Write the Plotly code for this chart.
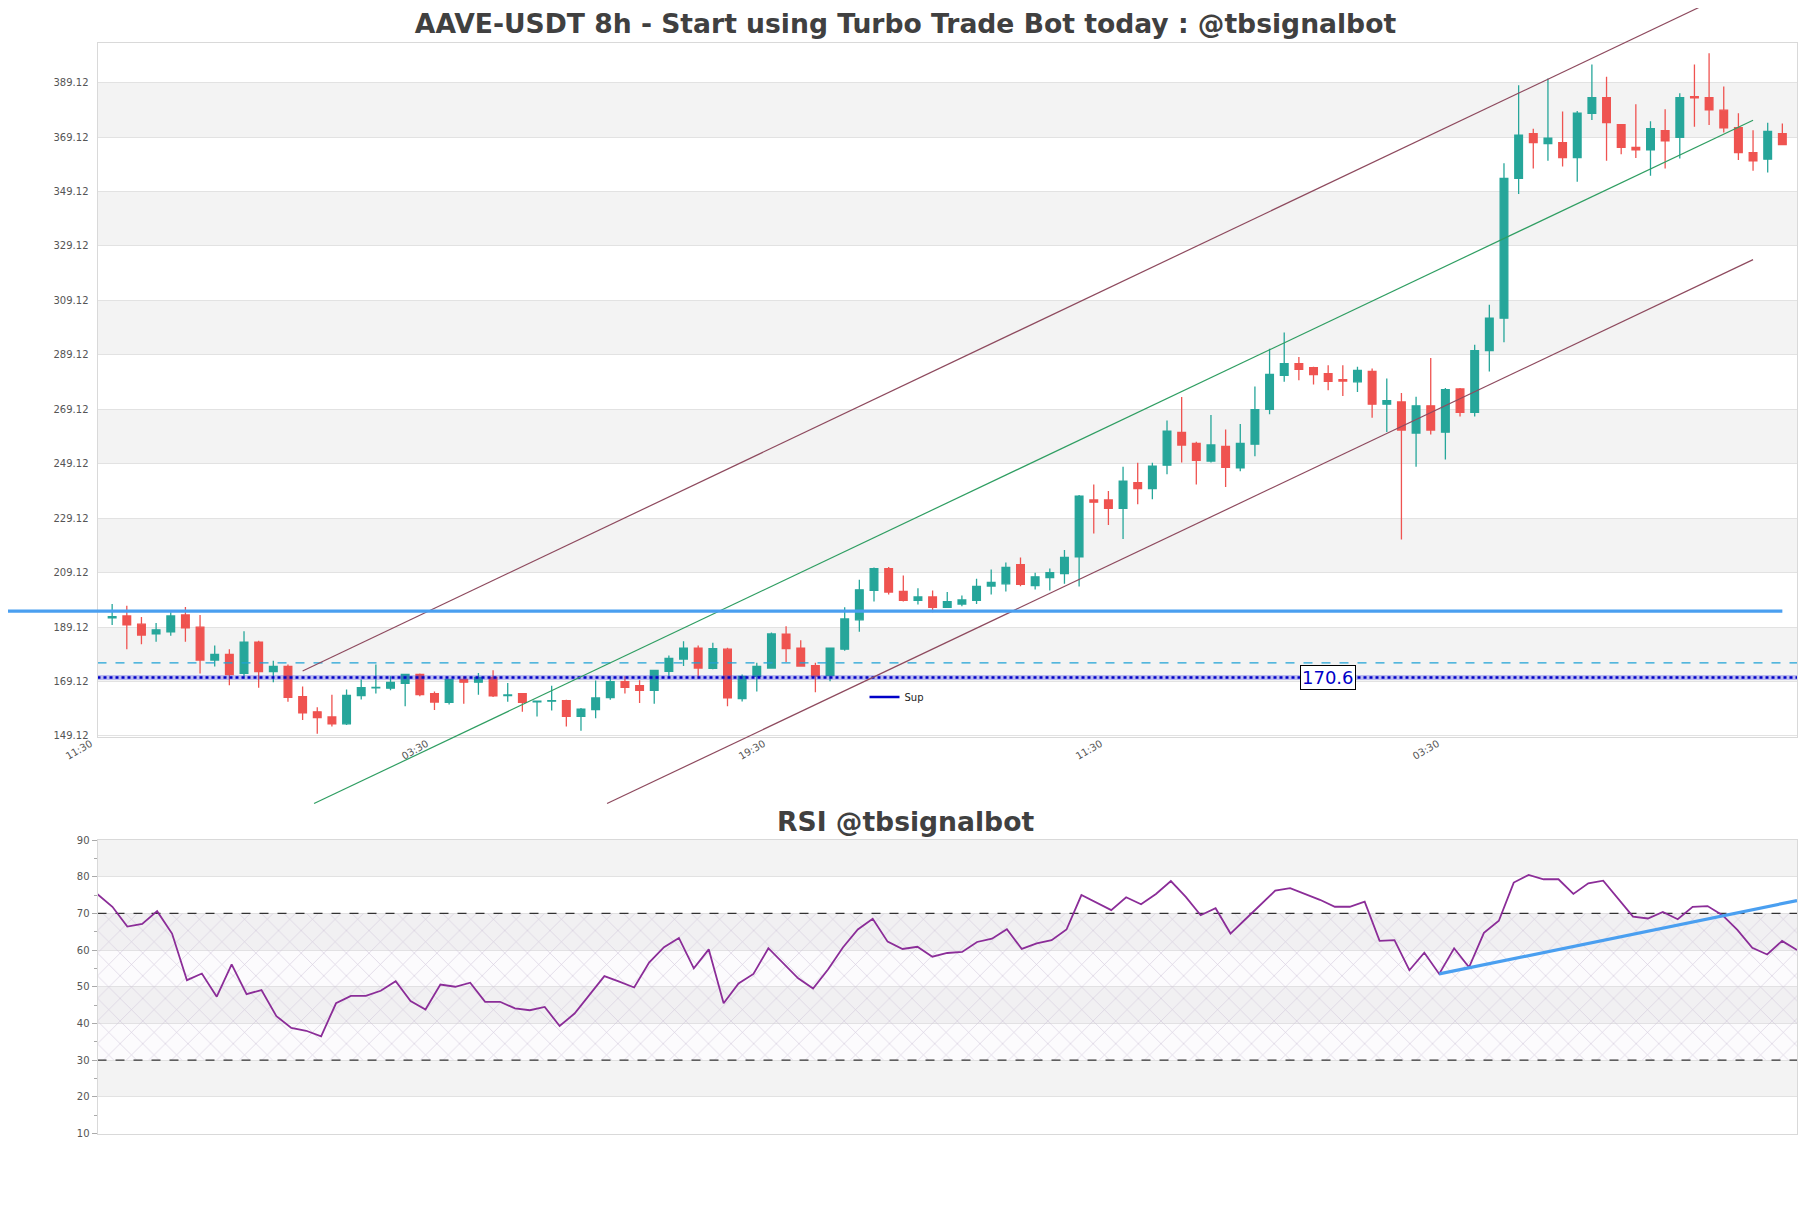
import plotly.graph_objects as go

# ---------------- data ----------------
opens = [192.5, 193.2, 190.2, 186.6, 187.4, 193.6, 189.1, 177.0, 179.1, 172.1,
         183.6, 172.8, 174.7, 163.6, 158.0, 156.1, 153.6, 164.0, 166.8, 166.7,
         168.5, 171.7, 164.7, 161.5, 169.9, 168.9, 170.6, 164.0, 164.7, 161.7,
         161.9, 162.1, 156.3, 158.8, 163.2, 169.1, 167.6, 165.9, 172.9, 177.4,
         181.4, 174.0, 181.0, 162.9, 171.0, 174.1, 186.5, 181.4, 175.0, 171.3,
         181.0, 191.8, 202.6, 210.6, 202.2, 198.9, 200.2, 196.4, 197.6, 198.9,
         204.2, 205.0, 212.1, 204.4, 207.3, 208.8, 214.9, 235.8, 235.8, 232.7,
         242.2, 240.0, 248.6, 260.6, 256.6, 250.1, 255.5, 247.6, 256.3, 269.1,
         281.6, 285.9, 284.4, 282.2, 280.0, 279.2, 283.0, 271.0, 271.8, 260.4,
         270.4, 260.7, 276.6, 268.0, 290.7, 302.6, 353.9, 370.4, 366.7, 367.1,
         361.6, 377.8, 383.6, 373.7, 365.3, 364.4, 371.5, 369.0, 384.0, 383.6,
         379.0, 372.6, 363.4, 361.0, 370.4]
highs = [197.6, 197.0, 192.8, 190.6, 194.6, 196.5, 193.6, 182.4, 181.0, 187.6,
         184.1, 176.8, 175.4, 167.3, 159.7, 164.3, 166.2, 169.9, 175.4, 171.1,
         171.7, 172.1, 165.5, 170.1, 171.1, 172.3, 173.3, 168.6, 164.7, 161.9,
         167.6, 162.4, 159.4, 169.5, 171.1, 171.1, 169.6, 173.2, 178.7, 183.9,
         182.4, 183.4, 181.5, 171.7, 176.0, 187.1, 189.4, 184.3, 176.0, 181.6,
         196.4, 206.5, 211.0, 211.2, 208.1, 203.4, 202.6, 202.0, 200.7, 206.9,
         210.3, 212.8, 214.7, 209.1, 210.6, 217.4, 237.6, 241.5, 239.1, 248.0,
         249.5, 249.5, 265.0, 273.6, 257.2, 267.0, 261.7, 263.7, 277.5, 291.4,
         297.3, 288.3, 284.7, 285.3, 285.3, 284.7, 284.1, 280.4, 275.1, 273.7,
         288.0, 276.9, 276.9, 292.8, 307.5, 359.5, 388.1, 372.2, 390.6, 378.5,
         378.7, 395.8, 391.3, 373.7, 381.2, 374.9, 379.3, 385.2, 395.8, 399.9,
         387.7, 377.9, 371.6, 374.4, 374.1]
lows = [189.9, 181.0, 182.8, 183.7, 185.9, 183.7, 172.1, 174.6, 167.8, 170.1,
        166.8, 168.9, 161.7, 155.0, 149.9, 152.6, 153.2, 162.5, 164.7, 165.9,
        160.0, 163.7, 158.7, 160.7, 161.0, 164.3, 163.4, 161.7, 158.0, 156.3,
        158.5, 152.6, 151.0, 155.6, 162.4, 164.7, 161.2, 161.0, 170.5, 174.8,
        170.1, 173.6, 160.0, 161.8, 165.5, 173.8, 176.3, 174.6, 165.2, 169.2,
        180.4, 187.4, 198.5, 201.1, 198.5, 197.4, 194.6, 196.4, 196.8, 197.6,
        201.1, 202.2, 204.1, 202.9, 202.6, 205.0, 204.0, 223.5, 226.6, 221.5,
        234.2, 236.1, 245.3, 249.6, 241.5, 249.6, 240.6, 246.4, 251.9, 267.3,
        279.2, 279.8, 278.2, 276.1, 274.0, 275.5, 266.0, 260.8, 221.3, 248.0,
        259.9, 250.7, 266.5, 266.5, 283.0, 293.7, 348.2, 357.6, 360.4, 358.3,
        352.7, 375.4, 360.4, 362.8, 361.4, 354.9, 357.6, 361.2, 372.9, 373.5,
        370.8, 360.7, 356.7, 356.1, 366.3]
closes = [193.0, 189.9, 186.2, 188.1, 193.2, 188.8, 177.0, 179.1, 171.7, 183.6,
          172.8, 174.7, 163.3, 157.6, 155.9, 153.6, 164.0, 166.9, 167.0, 168.8,
          171.7, 164.3, 161.6, 169.9, 168.9, 170.6, 163.9, 164.2, 161.5, 161.9,
          162.1, 156.3, 159.0, 163.1, 169.1, 167.0, 165.9, 173.2, 177.6, 181.4,
          174.1, 181.2, 163.1, 171.0, 174.7, 186.6, 181.2, 174.8, 171.1, 181.4,
          192.1, 202.8, 210.6, 202.0, 198.9, 200.2, 196.4, 198.5, 199.1, 204.1,
          205.5, 211.0, 204.8, 207.6, 209.1, 214.7, 237.2, 235.0, 232.7, 242.7,
          240.0, 248.2, 261.1, 256.0, 250.4, 256.0, 247.8, 256.6, 269.0, 281.9,
          285.9, 283.8, 281.9, 279.4, 279.5, 283.4, 271.0, 272.3, 261.5, 270.4,
          261.5, 276.3, 268.0, 290.7, 302.6, 353.9, 369.8, 367.1, 368.7, 361.6,
          377.9, 383.6, 374.4, 365.3, 364.4, 372.2, 367.7, 383.6, 383.5, 379.1,
          372.5, 363.4, 360.4, 371.2, 366.3]
candle_idx = list(range(len(opens)))

rsi_values = [75.2, 71.8, 66.4, 67.1, 70.6, 64.5, 51.8, 53.6, 47.3, 56.1,
              48.0, 49.1, 42.0, 38.8, 38.0, 36.5, 45.5, 47.5, 47.5, 48.9,
              51.5, 46.1, 43.8, 50.6, 50.0, 51.1, 45.9, 45.9, 44.1, 43.6,
              44.5, 39.3, 42.7, 47.7, 52.9, 51.4, 49.8, 56.6, 60.8, 63.3,
              55.0, 60.2, 45.5, 50.9, 53.5, 60.5, 56.4, 52.3, 49.5, 54.7,
              60.7, 65.6, 68.5, 62.3, 60.3, 60.9, 58.2, 59.2, 59.5, 62.2,
              63.1, 65.7, 60.3, 61.8, 62.7, 65.6, 75.0, 72.9, 70.9, 74.4,
              72.5, 75.3, 78.8, 74.5, 69.5, 71.4, 64.5, 68.4, 72.2, 76.2,
              76.9, 75.3, 73.7, 71.8, 71.8, 73.2, 62.5, 62.7, 54.5, 59.3,
              53.5, 60.5, 55.3, 64.7, 68.0, 78.4, 80.5, 79.3, 79.3, 75.3,
              78.2, 78.9, 74.1, 69.1, 68.6, 70.4, 68.4, 71.8, 72.0, 69.5,
              65.5, 60.6, 58.8, 62.5, 60.0]
rsi_idx = list(range(len(rsi_values)))

x_tick_vals = [-0.98, 21.95, 44.95, 67.95, 90.95]
x_tick_text = ["11:30", "03:30", "19:30", "11:30", "03:30"]
price_ticks = [149.12, 169.12, 189.12, 209.12, 229.12, 249.12, 269.12,
               289.12, 309.12, 329.12, 349.12, 369.12, 389.12]
rsi_ticks = [10, 20, 30, 40, 50, 60, 70, 80, 90]

resistance_level = 195.0
dashed_level = 176.0
support_level = 170.6
support_label_at = 83

channel_upper = ([13.0, 108.3], [173.0, 416.7])
channel_mid = ([13.78, 112.0], [124.3, 375.3])
channel_lower = ([33.78, 112.0], [124.3, 324.1])

rsi_trend_x = [90, 114]
rsi_trend_y = [53.5, 73.5]
rsi_overbought = 70
rsi_oversold = 30

# ---------------- layout geometry ----------------
# page body has an 8px margin: the figure starts at (8, 8) in the window
PAGE_OFF = 8
W, H = 1811 - PAGE_OFF, 1208 - PAGE_OFF

def fx(p):  # window pixel x -> paper
    return (p - PAGE_OFF) / W

def fy(p):  # window pixel y -> paper
    return 1 - (p - PAGE_OFF) / H

XR = [-1, 115]
YR = [148.64, 403.55]
XD = [fx(97.5), fx(1797)]
YD_MAIN = [fy(737.3), fy(43.3)]
YD_RSI = [fy(1133.5), fy(840)]
RSI_R = [10, 90]

def to_px(v):
    return XD[0] + (v - XR[0]) / (XR[1] - XR[0]) * (XD[1] - XD[0])

def to_py(v):
    return YD_MAIN[0] + (v - YR[0]) / (YR[1] - YR[0]) * (YD_MAIN[1] - YD_MAIN[0])

GREEN = "#26a69a"
RED = "#ef5350"
BAND = "#f3f3f3"
GRID = "#e2e2e2"
FRAME = "#d9d9d9"
TXT = "#555555"

fig = go.Figure()

fig.add_trace(go.Candlestick(
    x=candle_idx, open=opens, high=highs, low=lows, close=closes,
    increasing=dict(line=dict(color=GREEN, width=1.3), fillcolor=GREEN),
    decreasing=dict(line=dict(color=RED, width=1.3), fillcolor=RED),
    xaxis="x", yaxis="y", showlegend=False, hoverinfo="skip"))

# horizontal levels
fig.add_trace(go.Scatter(x=XR, y=[dashed_level, dashed_level], mode="lines",
                         line=dict(color="#1fa3d6", width=1.3, dash="dash"),
                         xaxis="x", yaxis="y", showlegend=False, hoverinfo="skip"))
fig.add_trace(go.Scatter(x=XR, y=[support_level, support_level], mode="lines",
                         line=dict(color="rgba(60,60,230,0.3)", width=5),
                         xaxis="x", yaxis="y", showlegend=False, hoverinfo="skip"))
fig.add_trace(go.Scatter(x=XR, y=[support_level, support_level], mode="lines",
                         line=dict(color="#0000c8", width=2.5, dash="dot"),
                         xaxis="x", yaxis="y", showlegend=False, hoverinfo="skip"))
fig.add_trace(go.Scatter(x=[None], y=[None], mode="lines", name="Sup",
                         line=dict(color="#0000c8", width=2.5),
                         xaxis="x", yaxis="y", showlegend=True))

# RSI panel
fig.add_trace(go.Scatter(x=[rsi_idx[0], rsi_idx[-1], rsi_idx[-1], rsi_idx[0], rsi_idx[0]],
                         y=[rsi_oversold, rsi_oversold, rsi_overbought, rsi_overbought, rsi_oversold],
                         mode="none", fill="toself", fillcolor="rgba(0,0,0,0)",
                         fillpattern=dict(shape="x", size=16, solidity=0.08,
                                          fgcolor="#cbc3d8", fgopacity=0.8,
                                          bgcolor="rgba(225,215,240,0.10)"),
                         xaxis="x2", yaxis="y2", showlegend=False, hoverinfo="skip"))
for lvl in (rsi_overbought, rsi_oversold):
    fig.add_trace(go.Scatter(x=[rsi_idx[0], rsi_idx[-1]], y=[lvl, lvl], mode="lines",
                             line=dict(color="#333333", width=1.3, dash="dash"),
                             xaxis="x2", yaxis="y2", showlegend=False, hoverinfo="skip"))
fig.add_trace(go.Scatter(x=rsi_idx, y=rsi_values, mode="lines",
                         line=dict(color="#8b2d98", width=1.8),
                         xaxis="x2", yaxis="y2", showlegend=False, hoverinfo="skip"))
fig.add_trace(go.Scatter(x=rsi_trend_x, y=rsi_trend_y, mode="lines",
                         line=dict(color="#4a9ff0", width=3.2),
                         xaxis="x2", yaxis="y2", showlegend=False, hoverinfo="skip"))

shapes = []
# background bands
for k in range(len(price_ticks) - 1, 0, -2):
    shapes.append(dict(type="rect", xref="x domain", yref="y", x0=0, x1=1,
                       y0=price_ticks[k - 1], y1=price_ticks[k], fillcolor=BAND,
                       line=dict(width=0), layer="below"))
for k in range(len(rsi_ticks) - 1, 0, -2):
    shapes.append(dict(type="rect", xref="x2 domain", yref="y2", x0=0, x1=1,
                       y0=rsi_ticks[k - 1], y1=rsi_ticks[k], fillcolor=BAND,
                       line=dict(width=0), layer="below"))

# channel lines (not clipped to the plot area)
for (xs, ys), col in ((channel_upper, "#8e4a5e"), (channel_mid, "#2f9e62"),
                      (channel_lower, "#8e4a5e")):
    shapes.append(dict(type="line", xref="paper", yref="paper",
                       x0=to_px(xs[0]), y0=to_py(ys[0]), x1=to_px(xs[1]), y1=to_py(ys[1]),
                       line=dict(color=col, width=1.2), layer="above"))

# resistance line (extends into the left margin)
shapes.append(dict(type="line", xref="paper", yref="paper",
                   x0=fx(8), x1=to_px(candle_idx[-1]),
                   y0=to_py(resistance_level), y1=to_py(resistance_level),
                   line=dict(color="#4a9ff0", width=3.4), layer="above"))

annotations = [
    dict(text="RSI @tbsignalbot", xref="paper", yref="paper", x=fx(905.5), y=fy(821),
         xanchor="center", yanchor="middle", showarrow=False,
         font=dict(family="DejaVu Sans", size=26.6, color="#404040", weight="bold")),
    dict(text=f"{support_level}", xref="x", yref="y", x=support_label_at, y=support_level,
         xanchor="center", yanchor="middle", showarrow=False,
         font=dict(family="DejaVu Sans", size=18, color="#0000c8"),
         bgcolor="white", bordercolor="black", borderwidth=1, borderpad=1),
]

axis_common = dict(showline=True, mirror=True, linecolor=FRAME, linewidth=1,
                   zeroline=False, automargin=False)

fig.update_layout(
    width=W, height=H,
    margin=dict(l=0, r=0, t=0, b=0),
    paper_bgcolor="white", plot_bgcolor="white",
    boxgap=0.25,
    title=dict(text="AAVE-USDT 8h - Start using Turbo Trade Bot today : @tbsignalbot",
               x=fx(905.5), xanchor="center", y=fy(24), yanchor="middle",
               font=dict(family="DejaVu Sans", size=26.6, color="#404040", weight="bold")),
    font=dict(family="DejaVu Sans", color=TXT),
    xaxis=dict(domain=XD, range=XR, anchor="y", showgrid=False,
               tickmode="array", tickvals=x_tick_vals, ticktext=x_tick_text,
               tickangle=-30, ticks="", tickfont=dict(size=10, color=TXT),
               ticklabelshift=-7, ticklabelstandoff=-4,
               rangeslider=dict(visible=False), **axis_common),
    yaxis=dict(domain=YD_MAIN, range=YR, anchor="x", showgrid=True, gridcolor=GRID,
               tickmode="array", tickvals=price_ticks,
               ticktext=[f"{v:.2f}" for v in price_ticks],
               ticks="outside", ticklen=6, tickcolor="rgba(0,0,0,0)",
               tickfont=dict(size=10, color=TXT), **axis_common),
    xaxis2=dict(domain=XD, range=[rsi_idx[0], rsi_idx[-1]], anchor="y2",
                showgrid=False, showticklabels=False, ticks="", **axis_common),
    yaxis2=dict(domain=YD_RSI, range=RSI_R, anchor="x2", showgrid=True, gridcolor=GRID,
                tickmode="array", tickvals=rsi_ticks, ticks="outside", ticklen=5,
                tickcolor="#aaaaaa", tickfont=dict(size=10, color=TXT),
                minor=dict(ticks="outside", ticklen=3, dtick=5, tickcolor="#aaaaaa",
                           showgrid=False),
                **axis_common),
    shapes=shapes,
    annotations=annotations,
    showlegend=True,
    legend=dict(x=fx(864.5), y=fy(697), xanchor="left", yanchor="middle",
                bgcolor="rgba(0,0,0,0)", font=dict(size=10, color="#222222"),
                itemwidth=30),
    hovermode=False,
)

fig.write_html("out.html")
